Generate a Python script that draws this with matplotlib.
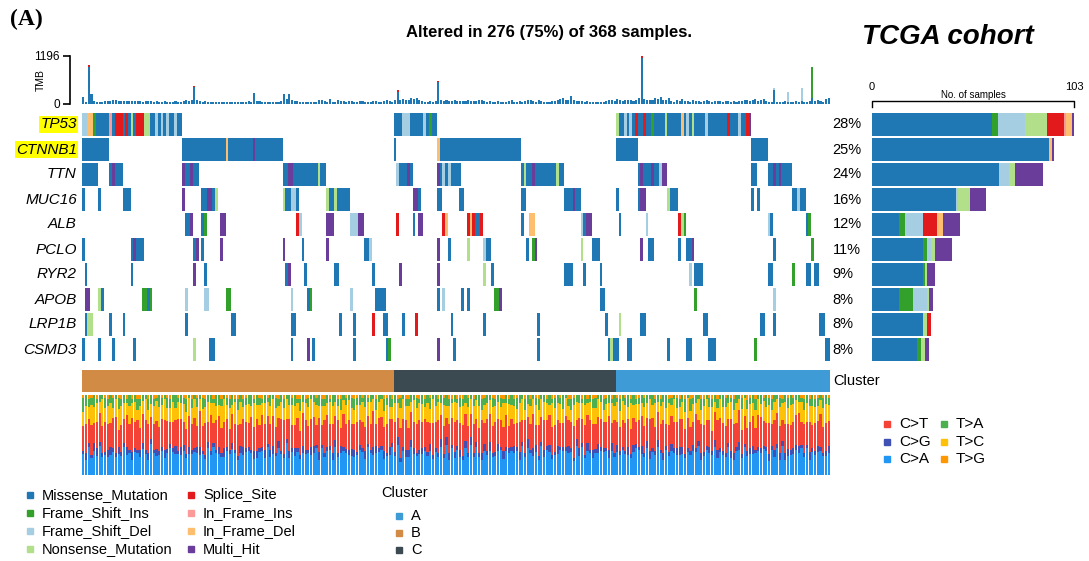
import numpy as np
import matplotlib.pyplot as plt
from matplotlib.lines import Line2D

plt.rcParams['font.family'] = ['Liberation Sans', 'DejaVu Sans']

# ---------------- data ----------------
genes = ['TP53', 'CTNNB1', 'TTN', 'MUC16', 'ALB', 'PCLO', 'RYR2', 'APOB', 'LRP1B', 'CSMD3']
highlight = ['TP53', 'CTNNB1']
n_samples = 276
n_total = 368

classes = ['Missense_Mutation', 'Frame_Shift_Ins', 'Frame_Shift_Del', 'Nonsense_Mutation',
           'Splice_Site', 'In_Frame_Ins', 'In_Frame_Del', 'Multi_Hit']
codes = ['M', 'I', 'D', 'N', 'S', 'i', 'd', 'H']
class_colors = ['#1F78B4', '#33A02C', '#A6CEE3', '#B2DF8A',
                '#E31A1C', '#FB9A99', '#FDBF6F', '#6A3D9A']
col = dict(zip(codes, class_colors))

# mutated samples per gene: (first sample, last sample + 1, class code)
tp53 = [(0, 2, 'D'), (2, 4, 'd'), (4, 5, 'I'), (5, 10, 'M'), (10, 11, 'i'), (11, 12, 'M'),
        (12, 15, 'S'), (15, 16, 'M'), (16, 17, 'S'), (17, 18, 'M'), (18, 19, 'N'), (19, 20, 'M'),
        (20, 23, 'S'), (23, 25, 'N'), (25, 27, 'M'), (27, 28, 'D'), (28, 29, 'M'), (29, 30, 'D'),
        (30, 31, 'M'), (31, 32, 'D'), (32, 34, 'M'), (34, 35, 'D'), (35, 37, 'M'),
        (115, 118, 'M'), (118, 121, 'D'), (121, 126, 'M'), (126, 127, 'D'), (127, 128, 'M'),
        (128, 129, 'I'), (129, 131, 'M'),
        (197, 198, 'N'), (198, 200, 'M'), (200, 201, 'D'), (201, 202, 'M'), (202, 203, 'D'),
        (203, 204, 'M'), (204, 205, 'S'), (205, 207, 'M'), (207, 208, 'S'), (208, 210, 'M'),
        (210, 211, 'I'), (211, 215, 'M'), (215, 216, 'N'), (216, 221, 'M'), (221, 222, 'd'),
        (222, 223, 'M'), (223, 224, 'D'), (224, 225, 'M'), (225, 226, 'N'), (226, 230, 'M'),
        (230, 231, 'D'), (231, 238, 'M'), (238, 239, 'S'), (239, 242, 'M'), (242, 243, 'D'),
        (243, 245, 'M'), (245, 246, 'S'), (246, 247, 'H')]
ctnnb1 = [(0, 10, 'M'), (37, 53, 'M'), (53, 54, 'd'), (54, 63, 'M'), (63, 64, 'H'), (64, 74, 'M'),
          (115, 116, 'M'), (131, 132, 'd'), (132, 162, 'M'), (197, 205, 'M'), (247, 253, 'M')]
ttn = [(0, 6, 'M'), (10, 11, 'M'), (11, 12, 'H'), (12, 15, 'M'), (37, 38, 'H'), (38, 40, 'M'),
       (40, 41, 'H'), (41, 43, 'M'), (74, 76, 'M'), (76, 78, 'H'), (78, 87, 'M'), (87, 88, 'N'),
       (88, 90, 'M'), (116, 117, 'D'), (117, 120, 'M'), (120, 121, 'H'), (121, 122, 'M'),
       (131, 132, 'H'), (132, 133, 'M'), (133, 134, 'D'), (134, 135, 'M'), (135, 136, 'D'),
       (136, 140, 'M'), (162, 163, 'M'), (163, 164, 'N'), (164, 166, 'M'), (166, 167, 'H'),
       (167, 175, 'M'), (175, 176, 'N'), (176, 178, 'M'), (205, 206, 'M'), (206, 207, 'H'),
       (207, 210, 'M'), (210, 211, 'H'), (211, 213, 'M'), (213, 214, 'D'), (214, 216, 'H'),
       (247, 249, 'M'), (253, 255, 'M'), (255, 256, 'H'), (256, 257, 'M'), (257, 258, 'H'),
       (258, 262, 'M')]
muc16 = [(0, 1, 'M'), (6, 7, 'M'), (15, 18, 'M'), (37, 38, 'H'), (44, 46, 'M'), (46, 48, 'H'),
         (48, 49, 'M'), (49, 50, 'N'), (74, 75, 'N'), (75, 77, 'M'), (77, 79, 'D'), (79, 80, 'M'),
         (90, 91, 'N'), (91, 93, 'M'), (93, 94, 'N'), (94, 99, 'M'), (122, 124, 'H'), (124, 125, 'M'),
         (131, 133, 'M'), (139, 141, 'M'), (162, 164, 'M'), (178, 181, 'M'), (181, 182, 'H'),
         (182, 184, 'M'), (197, 198, 'M'), (205, 206, 'M'), (206, 208, 'H'), (216, 217, 'N'),
         (217, 220, 'M'), (247, 248, 'M'), (249, 250, 'M'), (262, 264, 'M'), (264, 265, 'D'),
         (265, 267, 'M')]
alb = [(38, 40, 'M'), (40, 41, 'H'), (44, 45, 'M'), (45, 46, 'I'), (51, 53, 'H'), (79, 80, 'S'),
       (80, 81, 'D'), (90, 93, 'H'), (99, 102, 'D'), (102, 104, 'H'), (116, 117, 'S'), (122, 123, 'M'),
       (124, 126, 'H'), (133, 134, 'S'), (134, 135, 'd'), (142, 143, 'S'), (143, 144, 'd'),
       (144, 145, 'S'), (145, 147, 'M'), (147, 148, 'S'), (162, 163, 'M'), (165, 167, 'd'),
       (184, 185, 'D'), (185, 186, 'M'), (186, 188, 'H'), (198, 199, 'M'), (208, 209, 'D'),
       (220, 221, 'S'), (221, 222, 'N'), (222, 223, 'I'), (253, 254, 'D'), (254, 255, 'M'),
       (267, 268, 'M'), (268, 269, 'I')]
pclo = [(0, 1, 'M'), (18, 19, 'M'), (19, 20, 'H'), (20, 23, 'M'), (41, 42, 'M'), (42, 43, 'H'),
        (44, 45, 'M'), (51, 52, 'H'), (74, 75, 'H'), (81, 82, 'M'), (90, 91, 'H'), (104, 106, 'M'),
        (106, 107, 'D'), (131, 132, 'H'), (135, 136, 'M'), (142, 143, 'N'), (148, 149, 'D'),
        (149, 151, 'M'), (164, 165, 'M'), (166, 167, 'I'), (167, 168, 'H'), (184, 185, 'N'),
        (188, 191, 'M'), (206, 207, 'H'), (209, 211, 'M'), (220, 221, 'M'), (223, 225, 'M'),
        (225, 226, 'H'), (255, 256, 'M'), (269, 270, 'I')]
ryr2 = [(1, 2, 'M'), (18, 19, 'M'), (41, 42, 'H'), (45, 46, 'M'), (75, 76, 'M'), (76, 77, 'H'),
        (82, 83, 'M'), (93, 95, 'M'), (107, 108, 'M'), (117, 118, 'H'), (131, 132, 'H'),
        (148, 149, 'N'), (151, 152, 'M'), (178, 181, 'M'), (185, 186, 'M'), (191, 192, 'M'),
        (224, 225, 'D'), (226, 229, 'M'), (253, 255, 'M'), (262, 263, 'I'), (267, 269, 'M'),
        (270, 272, 'M')]
apob = [(1, 3, 'H'), (6, 7, 'N'), (7, 8, 'M'), (22, 24, 'I'), (24, 25, 'M'), (25, 26, 'I'),
        (38, 39, 'D'), (45, 47, 'D'), (53, 55, 'I'), (77, 78, 'D'), (83, 84, 'M'), (84, 85, 'I'),
        (99, 100, 'D'), (108, 112, 'M'), (131, 132, 'M'), (133, 134, 'D'), (140, 141, 'M'),
        (142, 143, 'M'), (152, 154, 'I'), (154, 155, 'H'), (191, 193, 'M'), (226, 227, 'I'),
        (255, 256, 'D')]
lrp1b = [(1, 2, 'M'), (2, 4, 'N'), (10, 11, 'M'), (15, 16, 'M'), (38, 39, 'M'), (55, 57, 'M'),
         (77, 79, 'M'), (95, 96, 'M'), (100, 101, 'M'), (107, 108, 'S'), (111, 113, 'M'),
         (118, 119, 'M'), (123, 124, 'S'), (136, 137, 'M'), (148, 149, 'M'), (168, 169, 'M'),
         (193, 194, 'M'), (198, 199, 'N'), (206, 208, 'M'), (229, 231, 'M'), (250, 252, 'M'),
         (255, 256, 'M'), (272, 274, 'M')]
csmd3 = [(0, 1, 'M'), (6, 7, 'M'), (11, 12, 'M'), (19, 20, 'M'), (41, 42, 'N'), (47, 49, 'M'),
         (77, 78, 'M'), (83, 84, 'H'), (85, 86, 'M'), (100, 101, 'M'), (112, 113, 'M'),
         (113, 114, 'I'), (131, 132, 'H'), (137, 138, 'M'), (168, 169, 'M'), (194, 195, 'M'),
         (195, 196, 'N'), (196, 198, 'M'), (201, 203, 'M'), (216, 217, 'M'), (223, 225, 'M'),
         (231, 234, 'M'), (248, 249, 'I'), (274, 276, 'M')]
matrix = [tp53, ctnnb1, ttn, muc16, alb, pclo, ryr2, apob, lrp1b, csmd3]

# samples per gene and class (order of `classes`)
gene_counts = [
    [61, 3, 14, 11, 9, 1, 3, 1],
    [90, 0, 0, 0, 0, 0, 2, 1],
    [65, 0, 5, 3, 0, 0, 0, 14],
    [43, 0, 1, 6, 0, 0, 0, 8],
    [14, 3, 9, 0, 7, 0, 3, 9],
    [26, 2, 2, 2, 0, 0, 0, 9],
    [26, 1, 0, 1, 0, 0, 0, 4],
    [14, 7, 7, 1, 0, 0, 0, 2],
    [26, 0, 0, 2, 2, 0, 0, 0],
    [23, 2, 0, 2, 0, 0, 0, 2],
]
max_count = 103

# clusters in sample order
cluster_names = ['B', 'C', 'A']
cluster_start = [0, 115, 197]
cluster_stop = [115, 197, 276]
cluster_colors = {'A': '#3E9BD5', 'B': '#D28B44', 'C': '#3A4A50'}

# tumor mutation burden per sample
tmb = [180, 60, 970, 260, 70, 60, 55, 60, 70, 65,
       80, 95, 90, 75, 80, 70, 85, 80, 70, 75,
       80, 70, 60, 75, 65, 70, 60, 65, 55, 60,
       70, 50, 60, 55, 65, 50, 55, 75, 90, 85,
       90, 460, 90, 70, 60, 65, 60, 55, 60, 50,
       60, 55, 50, 60, 55, 50, 60, 55, 60, 50,
       55, 70, 60, 270, 80, 70, 60, 55, 50, 60,
       55, 60, 50, 70, 260, 120, 250, 110, 80, 70,
       60, 55, 50, 60, 55, 60, 50, 110, 100, 70,
       60, 120, 60, 55, 110, 80, 70, 60, 65, 70,
       55, 60, 70, 65, 60, 55, 60, 70, 80, 60,
       60, 75, 110, 70, 60, 100, 340, 90, 130, 110,
       100, 150, 120, 160, 110, 70, 60, 55, 65, 60,
       70, 580, 90, 85, 90, 80, 85, 90, 80, 85,
       70, 80, 90, 85, 75, 80, 110, 90, 70, 60,
       65, 55, 60, 70, 60, 55, 60, 70, 110, 60,
       50, 75, 60, 85, 100, 90, 80, 60, 110, 65,
       60, 45, 60, 80, 70, 90, 130, 150, 100, 90,
       190, 110, 80, 70, 75, 60, 70, 55, 60, 50,
       45, 60, 55, 70, 100, 90, 80, 120, 110, 70,
       90, 100, 110, 80, 90, 150, 1196, 120, 90, 110,
       100, 150, 120, 170, 110, 90, 140, 80, 60, 90,
       80, 120, 80, 70, 60, 90, 80, 70, 60, 80,
       90, 80, 60, 70, 85, 70, 60, 70, 80, 60,
       70, 60, 70, 80, 90, 100, 80, 90, 120, 80,
       100, 120, 70, 60, 50, 400, 50, 60, 40, 70,
       300, 60, 50, 70, 60, 390, 40, 50, 80, 930,
       70, 90, 80, 60, 120, 140]
tmb_max = 1196
# non-missense part on top of some TMB bars: sample -> (class code, amount)
tmb_caps = {2: ('S', 45), 41: ('S', 35), 116: ('S', 30), 131: ('S', 35),
            206: ('S', 40), 255: ('D', 60), 260: ('D', 240), 265: ('D', 320), 269: ('I', 780)}

# mutational spectrum per sample (relative weights, one digit per sample)
spec_labels = ['C>A', 'C>G', 'C>T', 'T>C', 'T>A', 'T>G']
spec_colors = ['#2196F3', '#3F51B5', '#F44336', '#FFC107', '#4CAF50', '#FF9800']
ca = ('6475658465 5746575647 6585476657 4767565846 5675648576 6547586465 7564576485 '
      '5676485756 4657568475 6748565746 5657486567 7465758465 5846576574 6575847566 '
      '4768565475 5657846576 7485665748 5674658576 6485756647 5768465758 6547685674 '
      '7586465756 5647586745 6758465675 4675847566 5864756574 6475685746 585647')
cg = ('1211221112 2112112121 1221211211 2111212212 1122112111 2121121122 1112211212 '
      '2121112121 1211221211 1122121112 2111211221 1212112112 2211121121 1121221212 '
      '1212111221 2112121112 1211212211 2121121112 1122112121 2111221211 1212112122 '
      '1121211212 2211121121 1212211112 2121112211 1112121212 2121211121 121112')
ct = ('7869578697 6985768798 8697857968 7958697869 6879786958 9768597867 8596978687 '
      '7869859768 6978786959 8687957868 7958687969 8697685978 6859797868 7968587969 '
      '8796857968 6987968586 7869579687 8697868597 7958697868 6879859769 8768597968 '
      '9687957868 7869689587 6958787969 8697859768 7869687958 8596978686 797868')
tc = ('4536453645 5346543546 3645435654 5436354645 4563546354 3654536463 5436463545 '
      '4635354654 5346546354 3654453645 4536546345 5463354654 6345463546 4536354645 '
      '5364546354 3645463545 4563354645 5436546354 3654463545 4536354646 5364453645 '
      '4635546354 3546463545 5463354645 4536546354 3645453646 5463364545 453645')
ta = ('4322312132 2313221312 3221322132 1322312231 2131322213 3212231322 2231321213 '
      '1322213231 3213122322 2132231213 3221312132 1323221312 2213132231 3122321213 '
      '2231213322 1322312132 3213221231 2131322312 3222131223 1232213132 2313122321 '
      '3122231213 2231322132 1322213321 3213122231 2132321312 3221213223 231322')
tg = ('1011010011 0101101010 1100101101 0110010110 1010110010 0101101101 1001011010 '
      '0110100101 1011001011 0100110101 1101010010 0110101101 1001101010 0101011011 '
      '1010100110 0110110101 1001010110 0101101001 1100101011 0011010110 1010110100 '
      '0101001101 1010110011 0110100101 1001011010 0101100110 1010011010 110101')
spectra = [ca, cg, ct, tc, ta, tg]

# ---------------- layout ----------------
W, H = 1089, 561
fig = plt.figure(figsize=(W / 100, H / 100), dpi=100)


def box(x0, y0, x1, y1):
    return [x0 / W, 1 - y1 / H, (x1 - x0) / W, (y1 - y0) / H]


# TMB bars
ax_t = fig.add_axes(box(82, 56, 830, 104))
for i, v in enumerate(tmb):
    code, extra = tmb_caps.get(i, ('M', 0))
    ax_t.bar(i + 0.5, v - extra, width=0.75, color=col['M'], linewidth=0)
    if extra:
        ax_t.bar(i + 0.5, extra, bottom=v - extra, width=0.75, color=col[code], linewidth=0)
ax_t.set_xlim(0, n_samples)
ax_t.set_ylim(0, tmb_max)
for s in ['top', 'right', 'bottom']:
    ax_t.spines[s].set_visible(False)
ax_t.spines['left'].set_position(('outward', 9))
ax_t.spines['left'].set_linewidth(1.2)
ax_t.set_xticks([])
ax_t.set_yticks([0, tmb_max])
ax_t.tick_params(axis='y', length=5, width=1.2, labelsize=8.5, pad=2)
ax_t.set_ylabel('TMB', fontsize=7.5)
ax_t.yaxis.set_label_coords(-0.048, 0.5)

# oncoplot matrix
ax_m = fig.add_axes(box(82, 112, 830, 362))
for r, segs in enumerate(matrix):
    for a, b, c in segs:
        ax_m.barh(r, b - a, left=a, height=0.92, color=col[c], linewidth=0)
ax_m.set_xlim(0, n_samples)
ax_m.set_ylim(len(genes) - 0.5, -0.5)
ax_m.axis('off')
for r, g in enumerate(genes):
    kw = {}
    if g in highlight:
        kw['bbox'] = dict(boxstyle='square,pad=0.08', facecolor='#FFFF00', edgecolor='none')
    ax_m.text(-1.9, r, g, ha='right', va='center', style='italic', fontsize=11, **kw)
    pct = round(100 * sum(gene_counts[r]) / n_total)
    ax_m.text(n_samples + 1.0, r, f'{pct}%', ha='left', va='center', fontsize=10.5)

# right bar plot
ax_r = fig.add_axes(box(872, 112, 1074, 362))
for r, cnts in enumerate(gene_counts):
    left = 0
    for c, n in zip(codes, cnts):
        if n:
            ax_r.barh(r, n, left=left, height=0.9, color=col[c], linewidth=0)
        left += n
ax_r.set_xlim(0, max_count)
ax_r.set_ylim(len(genes) - 0.5, -0.5)
ax_r.axis('off')
tr = ax_r.get_xaxis_transform()
ax_r.plot([0, 0, max_count, max_count], [1.02, 1.045, 1.045, 1.02], transform=tr,
          color='black', lw=1, clip_on=False)
ax_r.text(0, 1.1, '0', transform=tr, ha='center', va='center', fontsize=8)
ax_r.text(max_count, 1.1, str(max_count), transform=tr, ha='center', va='center', fontsize=8)
ax_r.text(max_count / 2, 1.07, 'No. of samples', transform=tr, ha='center', va='center', fontsize=7)

# cluster annotation
ax_c = fig.add_axes(box(82, 370, 830, 392))
for name, a, b in zip(cluster_names, cluster_start, cluster_stop):
    ax_c.barh(0, b - a, left=a, height=1, color=cluster_colors[name], linewidth=0)
ax_c.set_xlim(0, n_samples)
ax_c.set_ylim(-0.5, 0.5)
ax_c.axis('off')
ax_c.text(n_samples + 1.2, 0, 'Cluster', ha='left', va='center', fontsize=10.5)

# mutational spectrum
ax_s = fig.add_axes(box(82, 395, 830, 475))
vals = np.array([[int(ch) for ch in s.replace(' ', '')] for s in spectra], dtype=float)
frac = vals / vals.sum(axis=0)
x = np.arange(frac.shape[1]) + 0.5
bottom = np.zeros(frac.shape[1])
for k in range(len(spec_labels)):
    ax_s.bar(x, frac[k], bottom=bottom, width=0.8, color=spec_colors[k], linewidth=0)
    bottom += frac[k]
ax_s.set_xlim(0, n_samples)
ax_s.set_ylim(0, 1)
ax_s.axis('off')


# legends
def legend_item(xm, y, color, label, fs, ms=5):
    fig.add_artist(Line2D([xm / W], [1 - y / H], marker='s', markersize=ms, color=color,
                          linestyle='', transform=fig.transFigure))
    fig.text((xm + 12) / W, 1 - y / H, label, ha='left', va='center', fontsize=fs)


rows_y = [495, 513, 531, 549]
for k in range(4):
    legend_item(30, rows_y[k], class_colors[k], classes[k], 10.5)
    legend_item(191, rows_y[k], class_colors[k + 4], classes[k + 4], 10.5)

fig.text(381 / W, 1 - 493 / H, 'Cluster', ha='left', va='center', fontsize=10.5)
for name, y in zip(['A', 'B', 'C'], [516, 533, 550]):
    legend_item(399, y, cluster_colors[name], name, 10.5)

spec_order = [2, 1, 0, 4, 3, 5]
spec_pos = [(887, 424), (887, 442), (887, 459), (944, 424), (944, 442), (944, 459)]
for k, (xm, y) in zip(spec_order, spec_pos):
    legend_item(xm, y, spec_colors[k], spec_labels[k], 11)

# titles
fig.text(549 / W, 1 - 33 / H, 'Altered in 276 (75%) of 368 samples.', ha='center', va='center',
         fontsize=12, fontweight='bold')
fig.text(862 / W, 1 - 37 / H, 'TCGA cohort', ha='left', va='center', fontsize=20,
         fontweight='bold', style='italic')
fig.text(10 / W, 1 - 19 / H, '(A)', ha='left', va='center', fontsize=17, fontweight='bold',
         family=['Liberation Serif', 'DejaVu Serif'])

fig.savefig('out.png', dpi=100)
